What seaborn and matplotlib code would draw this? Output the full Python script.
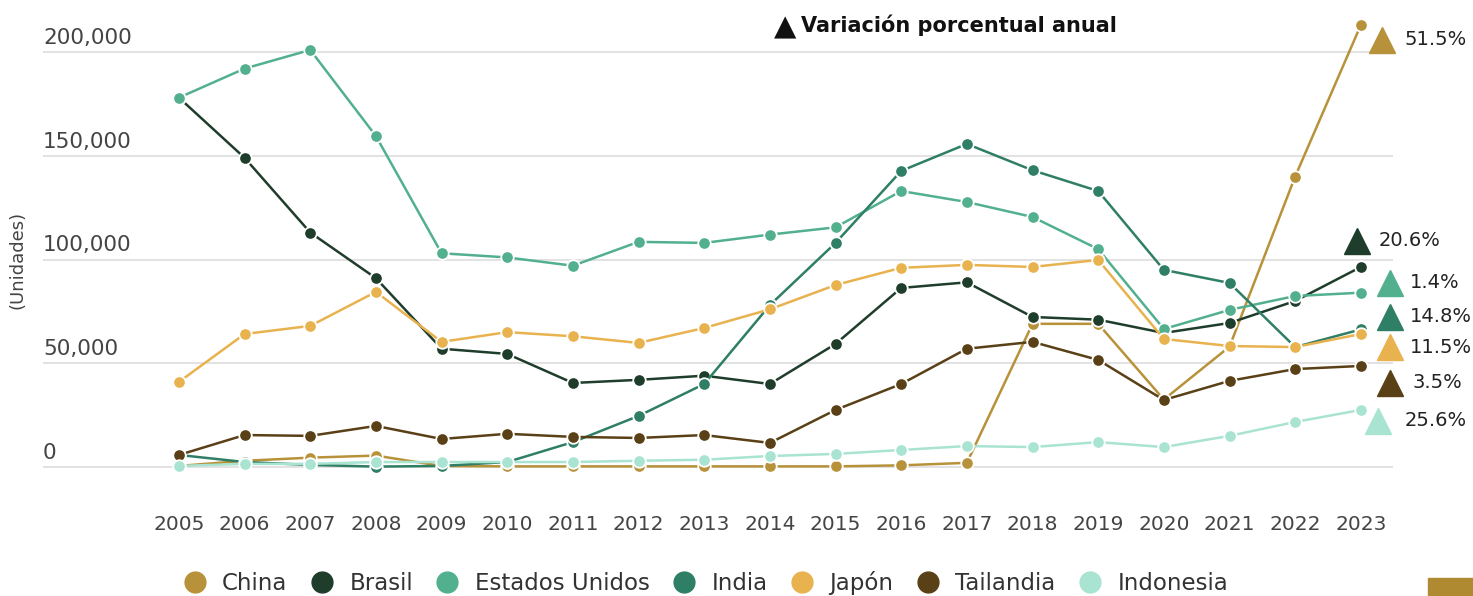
import pandas as pd
import matplotlib.pyplot as plt
import seaborn as sns
from matplotlib.lines import Line2D
from matplotlib.patches import Rectangle

sns.set_theme(style='white')
plt.rcParams['font.family'] = ['DejaVu Sans']

years = list(range(2005, 2024))

china = [500, 3000, 4500, 5500, 500, 300, 300, 300, 300, 300, 300, 800, 2000,
         69000, 69000, 32500, 58000, 140000, 213000]
brasil = [178000, 149000, 113000, 91000, 57000, 54500, 40500, 42000, 44000, 40000,
          59300, 86300, 89000, 72300, 71000, 64600, 69400, 80000, 96400]
estados_unidos = [178000, 192000, 201000, 159500, 103000, 101000, 97000, 108500, 108000,
                  112000, 115500, 133000, 127700, 120500, 105000, 66500, 75700, 82400, 84000]
india = [5800, 2400, 1000, 200, 500, 2400, 12000, 24600, 40000, 78000, 108000, 142700,
         155700, 143000, 133000, 95000, 88700, 57800, 66300]
japon = [41000, 64100, 68000, 84400, 60300, 65000, 63000, 59800, 67000, 76000, 87700,
         96000, 97400, 96400, 99800, 61700, 58300, 57800, 64100]
tailandia = [5800, 15400, 15000, 19800, 13500, 16000, 14500, 14000, 15400, 11600, 27500,
             40000, 57000, 60300, 51600, 32300, 41500, 47200, 48700]
indonesia = [500, 1500, 1500, 2400, 2400, 2400, 2400, 3000, 3500, 5300, 6300, 8200,
             10100, 9600, 12000, 9600, 15000, 21700, 27500]

countries = ['China', 'Brasil', 'Estados Unidos', 'India', 'Japón', 'Tailandia', 'Indonesia']
series = [china, brasil, estados_unidos, india, japon, tailandia, indonesia]
variation = ['51.5%', '20.6%', '1.4%', '14.8%', '11.5%', '3.5%', '25.6%']
colors = ['#b8923a', '#1f3d2b', '#52b08f', '#2f7e66', '#e8b24e', '#5a4016', '#a9e3d1']
y_ticks = [0, 50000, 100000, 150000, 200000]

# where the variation markers sit on the right (layout only)
tri_x = [2023.32, 2022.94, 2023.44, 2023.44, 2023.44, 2023.44, 2023.26]
tri_y = [206000, 109000, 88700, 72300, 57800, 40500, 22200]
lab_x = [2023.67, 2023.27, 2023.75, 2023.75, 2023.75, 2023.79, 2023.67]

df = pd.DataFrame({
    'year': years * len(countries),
    'units': [v for s in series for v in s],
    'country': [c for c in countries for _ in years],
})
palette = dict(zip(countries, colors))

fig = plt.figure(figsize=(14.73, 5.96), dpi=100)
ax = fig.add_axes([43 / 1473, 1 - 480 / 596, 1350 / 1473, 465 / 596])

sns.lineplot(data=df, x='year', y='units', hue='country', hue_order=countries,
             palette=palette, marker='o', markersize=9, markeredgecolor='white',
             markeredgewidth=1.3, linewidth=1.8, legend=False, ax=ax)

ax.set_xlim(2002.93, 2023.49)
ax.set_ylim(-6266, 217834)
for v in y_ticks:
    ax.axhline(v, color='#e2e2e2', linewidth=1.4, zorder=0)
    ax.annotate(f'{v:,}', xy=(0, v), xycoords=ax.get_yaxis_transform(),
                xytext=(0, 3), textcoords='offset points', va='bottom', ha='left',
                fontsize=15.5, color='#444444')
ax.set_yticks([])
ax.set_xticks(years)
ax.set_xticklabels([str(y) for y in years], fontsize=14.5, color='#444444')
ax.tick_params(axis='x', length=0, pad=25)
ax.set_xlabel('')
ax.set_ylabel('')
sns.despine(ax=ax, left=True, bottom=True)

fig.text(18 / 1473, 1 - 260 / 596, '(Unidades)', rotation=90, va='center', ha='center',
         fontsize=13, color='#444444')

for i, c in enumerate(countries):
    ax.plot(tri_x[i], tri_y[i], marker='^', markersize=19, color=colors[i],
            linestyle='none', clip_on=False)
    ax.text(lab_x[i], tri_y[i], variation[i], va='center', ha='left',
            fontsize=14, color='#222222', clip_on=False)

fig.text(774 / 1473, 1 - 27 / 596, '▲', va='center', ha='left',
         fontsize=21, color='#111111')
fig.text(801 / 1473, 1 - 25 / 596, 'Variación porcentual anual', va='center', ha='left',
         fontsize=15, fontweight='semibold', color='#111111')

handles = [Line2D([], [], marker='o', linestyle='none', markersize=15, color=c,
                  markeredgecolor=c) for c in colors]
fig.legend(handles, countries, loc='center', bbox_to_anchor=(700 / 1473, 1 - 583 / 596),
           ncol=7, frameon=False, fontsize=16.5, handletextpad=0.2, columnspacing=0.5,
           labelcolor='#333333')

fig.patches.append(Rectangle((1428 / 1473, 0), 45 / 1473, 18 / 596, transform=fig.transFigure,
                             color='#b08a30', zorder=5))

fig.savefig('out.png', dpi=100, facecolor='white')
